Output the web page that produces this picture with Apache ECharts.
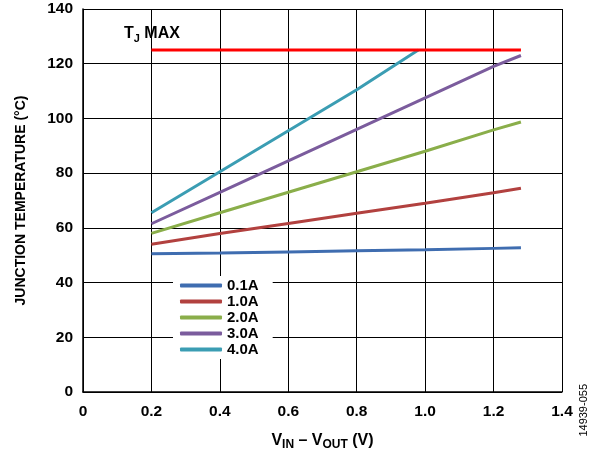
<!DOCTYPE html>
<html>
<head>
<meta charset="utf-8">
<script src="https://cdn.jsdelivr.net/npm/echarts@6/dist/echarts.min.js"></script>
<style>
    html, body { margin: 0; padding: 0; background: #fff; }
    #main { width: 598px; height: 449px; }
</style>
</head>
<body>
<div id="main"></div>
<script>
    // V_IN - V_OUT sample points
    var vDrop = [0.2, 0.4, 0.6, 0.8, 1.0, 1.2, 1.28];
    var vDrop4A = [0.2, 0.4, 0.6, 0.8, 0.98];
    // junction temperature per load current
    var t01A = [50.5, 50.8, 51.2, 51.6, 52.0, 52.5, 52.7];
    var t10A = [54.0, 57.9, 61.6, 65.3, 69.0, 72.8, 74.5];
    var t20A = [58.0, 65.5, 73.0, 80.5, 88.0, 95.8, 98.7];
    var t30A = [61.5, 73.0, 84.5, 96.0, 107.5, 119.0, 123.0];
    var t40A = [65.5, 80.5, 95.5, 110.5, 125.0];
    var tjMaxX = [0.2, 1.28];
    var tjMax = 125;
    var seriesNames = ['0.1A', '1.0A', '2.0A', '3.0A', '4.0A'];
    var colors = ['#3f6db0', '#b2413f', '#8aae4a', '#7b5c9d', '#3b9db3'];

    function pairs(xs, ys) {
        return xs.map(function (x, i) { return [x, ys[i]]; });
    }

    var font = 'Liberation Sans, Arial, sans-serif';
    var chart = echarts.init(document.getElementById('main'));

    var lineSeries = [t01A, t10A, t20A, t30A, t40A].map(function (ys, i) {
        return {
            name: seriesNames[i],
            type: 'line',
            data: pairs(i === 4 ? vDrop4A : vDrop, ys),
            showSymbol: false,
            lineStyle: { color: colors[i], width: 3 },
            itemStyle: { color: colors[i] },
            z: 3
        };
    });

    lineSeries.push({
        name: 'TJ MAX',
        type: 'line',
        data: tjMaxX.map(function (x) { return [x, tjMax]; }),
        showSymbol: false,
        lineStyle: { color: '#ff0000', width: 3 },
        z: 4
    });

    chart.setOption({
        animation: false,
        textStyle: { fontFamily: font },
        grid: { left: 83, right: 36, top: 9, bottom: 57, outerBoundsMode: 'none', containLabel: false },
        xAxis: {
            type: 'value', min: 0, max: 1.4, interval: 0.2,
            name: '{b|V}{s|IN}{b| – V}{s|OUT}{b| (V)}',
            nameLocation: 'middle', nameGap: 38,
            nameTextStyle: {
                rich: {
                    b: { fontSize: 16, fontWeight: 'bold', color: '#000', fontFamily: font },
                    s: { fontSize: 12, fontWeight: 'bold', color: '#000', fontFamily: font, padding: [9, 0, 0, 0] }
                }
            },
            axisLine: { lineStyle: { color: '#000', width: 1.5 } },
            axisTick: { show: false },
            axisLabel: {
                color: '#000', fontSize: 15.5, fontWeight: 'bold', margin: 12,
                formatter: function (v) { return v === 0 ? '0' : v.toFixed(1); }
            },
            splitLine: { show: true, lineStyle: { color: '#000', width: 1 } }
        },
        yAxis: {
            type: 'value', min: 0, max: 140, interval: 20,
            name: 'JUNCTION TEMPERATURE (°C)',
            nameLocation: 'middle', nameGap: 55, nameRotate: 90,
            nameTextStyle: { color: '#000', fontSize: 14, fontWeight: 'bold' },
            axisLine: { show: true, lineStyle: { color: '#000', width: 1.5 } },
            axisTick: { show: false },
            axisLabel: { color: '#000', fontSize: 15.5, fontWeight: 'bold', margin: 10, padding: [4, 0, 0, 0] },
            splitLine: { show: true, lineStyle: { color: '#000', width: 1 } }
        },
        legend: {
            data: seriesNames,
            orient: 'vertical',
            left: 173, top: 276,
            itemWidth: 42, itemHeight: 4, itemGap: 1,
            icon: 'roundRect',
            backgroundColor: '#fff',
            padding: [2, 14, 2, 7],
            textStyle: { color: '#000', fontSize: 15, fontWeight: 'bold' }
        },
        graphic: [
            {
                type: 'text', left: 124, top: 26,
                style: {
                    text: '{b|T}{s|J}{b| MAX}',
                    rich: {
                        b: { fontSize: 16, fontWeight: 'bold', fill: '#000', fontFamily: font },
                        s: { fontSize: 11, fontWeight: 'bold', fill: '#000', fontFamily: font, padding: [9, 0, 0, 0] }
                    }
                }
            },
            {
                type: 'text', left: 578, top: 384, rotation: Math.PI / 2,
                style: { text: '14939-055', fontSize: 11, fill: '#000', fontFamily: font }
            }
        ],
        series: lineSeries
    });
</script>
</body>
</html>
